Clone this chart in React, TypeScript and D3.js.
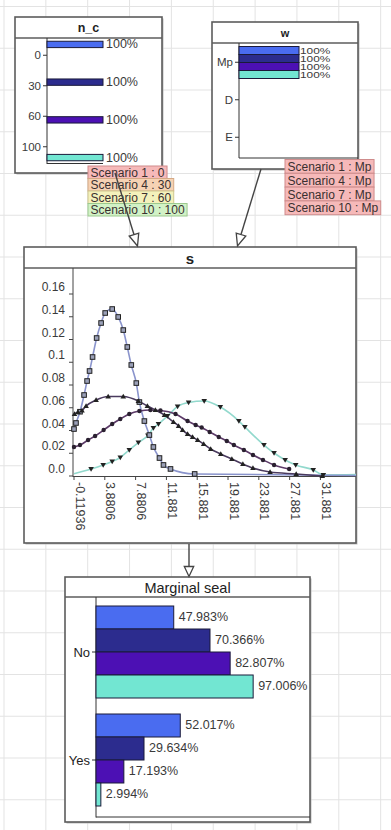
import React, { useEffect, useRef } from 'react';
import * as d3 from 'd3';

// ---------- data ----------
const scenarioNames = ['Scenario 1', 'Scenario 4', 'Scenario 7', 'Scenario 10'];
const scenarioColors = ['#4a6cf0', '#2c2c8e', '#4c10b4', '#72e6d2'];

const ncStates = ['0', '30', '60', '100'];
const ncEvidence = ['0', '30', '60', '100'];
const ncLabelFills = ['#f6b9b9', '#f6d2b4', '#f4f1bb', '#d2f2c6'];
const ncLabelStrokes = ['#cf8c8c', '#d5a985', '#cfc88f', '#9cc98f'];

const wStates = ['Mp', 'D', 'E'];
const wEvidence = ['Mp', 'Mp', 'Mp', 'Mp'];

const sYTicks = [0, 0.02, 0.04, 0.06, 0.08, 0.1, 0.12, 0.14, 0.16];
const sYTickLabels = ['0.0', '0.02', '0.04', '0.06', '0.08', '0.1', '0.12', '0.14', '0.16'];
const sXTicks = [-0.11936, 3.8806, 7.8806, 11.881, 15.881, 19.881, 23.881, 27.881, 31.881];
const sXTickLabels = ['-0.11936', '3.8806', '7.8806', '11.881', '15.881', '19.881', '23.881', '27.881', '31.881'];

// [x, density, marker(1) / line-only(0)]
const sScenario1 = [
  [-0.12, 0.0413, 1], [0.14, 0.0466, 1], [0.66, 0.0565, 1], [1.19, 0.0712, 1], [1.58, 0.0835, 1],
  [1.9, 0.0923, 1], [2.29, 0.1046, 1], [2.82, 0.1213, 1], [3.4, 0.1345, 1], [3.93, 0.1433, 1],
  [4.84, 0.1468, 1], [5.62, 0.1398, 1], [6.28, 0.1283, 1], [6.8, 0.1134, 1], [7.32, 0.0976, 1],
  [7.97, 0.0817, 1], [8.37, 0.065, 1], [9.02, 0.0483, 1], [9.67, 0.036, 1], [10.19, 0.0255, 1],
  [10.98, 0.0158, 1], [11.5, 0.0097, 1], [12.41, 0.0062, 1], [15.55, 0.0018, 1], [36.5, 0.0005, 0],
];
const sScenario4 = [
  [-0.05, 0.0545, 1], [0.4, 0.0563, 1], [0.92, 0.0576, 1], [1.45, 0.0615, 1], [2.75, 0.0668, 1],
  [4.32, 0.0699, 1], [6.28, 0.0699, 1], [8.24, 0.0659, 1], [9.41, 0.0615, 1], [10.45, 0.058, 1],
  [11.63, 0.0536, 1], [12.8, 0.0475, 1], [13.46, 0.044, 1], [13.98, 0.0404, 1], [14.63, 0.0369, 1],
  [15.28, 0.0343, 1], [15.94, 0.0316, 1], [16.72, 0.0281, 1], [17.63, 0.0237, 1], [18.94, 0.0193, 1],
  [20.38, 0.0149, 1], [21.81, 0.0105, 1], [23.12, 0.007, 1], [25.34, 0.0035, 1], [28.73, 0.0018, 1],
  [32.12, 0.0, 1],
];
const sScenario7 = [
  [-0.12, 0.0255, 1], [0.66, 0.0272, 1], [1.71, 0.0316, 1], [2.62, 0.0352, 1], [3.73, 0.0404, 1],
  [4.84, 0.0457, 1], [5.89, 0.0501, 1], [7.06, 0.0545, 1], [8.37, 0.0571, 1], [9.8, 0.058, 1],
  [11.11, 0.0576, 1], [13.07, 0.0545, 1], [14.63, 0.0483, 1], [15.68, 0.0448, 1], [16.46, 0.0426, 1],
  [17.5, 0.0387, 1], [18.68, 0.0343, 1], [19.72, 0.0308, 1], [20.64, 0.0272, 1], [21.94, 0.0229, 1],
  [23.12, 0.0185, 1], [24.42, 0.0141, 1], [25.86, 0.0097, 1], [27.82, 0.0062, 1],
];
const sScenario10 = [
  [-0.12, 0.002, 0], [2.1, 0.0062, 1], [3.67, 0.0097, 1], [4.84, 0.0127, 1], [5.89, 0.0163, 1],
  [7.06, 0.0229, 1], [8.24, 0.0294, 1], [9.48, 0.0356, 1], [10.19, 0.0422, 1], [10.85, 0.0457, 1],
  [12.02, 0.0527, 1], [13.33, 0.0611, 1], [14.76, 0.0646, 1], [16.79, 0.0659, 1], [18.88, 0.0606, 1],
  [21.29, 0.0483, 1], [22.07, 0.0431, 1], [24.55, 0.0272, 1], [25.86, 0.0202, 1], [27.3, 0.0141, 1],
  [28.67, 0.0097, 1], [30.95, 0.0053, 1], [32.26, 0.0009, 1], [36.5, 0.0012, 0],
];
const sSeries = [sScenario1, sScenario4, sScenario7, sScenario10];
const sMarkers = ['square', 'triangleUp', 'circle', 'triangleDown'];
const sLineColors = ['#8a94cc', '#4a3a5e', '#5c3a68', '#92d9cd'];

const sealStates = ['No', 'Yes'];
const sealNo = [47.983, 70.366, 82.807, 97.006];
const sealYes = [52.017, 29.634, 17.193, 2.994];

const FONT = "'Liberation Sans', Arial, sans-serif";
const BORDER = '#5c5c5c';
const TEXT = '#3a3a3a';

export default function App() {
  const ref = useRef<SVGSVGElement>(null);

  useEffect(() => {
    const svg = d3.select(ref.current);
    svg.selectAll('*').remove();
    svg.attr('font-family', FONT);

    // background grid
    const grid = svg.append('g');
    d3.range(0, 10).forEach((i) => {
      const x = 4 + i * 41.85;
      grid.append('line').attr('x1', x).attr('x2', x).attr('y1', 0).attr('y2', 830)
        .attr('stroke', '#e3e3e3').attr('stroke-width', 1);
    });
    d3.range(0, 20).forEach((j) => {
      const y = 6.5 + j * 41.75;
      grid.append('line').attr('x1', 0).attr('x2', 391).attr('y1', y).attr('y2', y)
        .attr('stroke', '#e3e3e3').attr('stroke-width', 1);
    });

    const drawBox = (x: number, y: number, w: number, h: number, hb: number, title: string,
      size: number, weight: string) => {
      const g = svg.append('g');
      g.append('rect').attr('x', x + 1.5).attr('y', y + 1.5).attr('width', w).attr('height', h)
        .attr('fill', '#bdbdbd');
      g.append('rect').attr('x', x).attr('y', y).attr('width', w).attr('height', h)
        .attr('fill', '#fff').attr('stroke', BORDER).attr('stroke-width', 1.6);
      g.append('line').attr('x1', x).attr('x2', x + w).attr('y1', hb).attr('y2', hb)
        .attr('stroke', BORDER).attr('stroke-width', 1.4);
      g.append('text').attr('x', x + w / 2).attr('y', (y + hb) / 2 + 0.5)
        .attr('text-anchor', 'middle').attr('dominant-baseline', 'central')
        .attr('font-size', size).attr('font-weight', weight).attr('fill', '#222').text(title);
      return g;
    };

    // ---------- n_c ----------
    {
      const g = drawBox(15, 17, 147, 156, 38, 'n_c', 12.5, 'bold');
      const y = d3.scaleBand().domain(ncStates).range([40, 162]);
      const inner = d3.scaleBand().domain(scenarioNames).range([1.25, 29.25]).paddingInner(0.12);
      const x = d3.scaleLinear().domain([0, 100]).range([47, 103]);
      g.append('line').attr('x1', 47).attr('x2', 47).attr('y1', 38).attr('y2', 164)
        .attr('stroke', '#333').attr('stroke-width', 1);
      g.append('line').attr('x1', 47).attr('x2', 103).attr('y1', 163.5).attr('y2', 163.5)
        .attr('stroke', '#333').attr('stroke-width', 1);
      ncStates.forEach((st) => {
        const cy = (y(st) as number) + y.bandwidth() / 2;
        g.append('line').attr('x1', 43).attr('x2', 47).attr('y1', cy).attr('y2', cy).attr('stroke', '#333');
        g.append('text').attr('x', 41).attr('y', cy).attr('text-anchor', 'end')
          .attr('dominant-baseline', 'central').attr('font-size', 11.5).attr('fill', TEXT).text(st);
        scenarioNames.forEach((sc, i) => {
          const v = ncEvidence[i] === st ? 100 : 0;
          if (!v) return;
          const by = (y(st) as number) + (inner(sc) as number);
          g.append('rect').attr('x', x(0)).attr('y', by).attr('width', x(v) - x(0))
            .attr('height', inner.bandwidth()).attr('fill', scenarioColors[i])
            .attr('stroke', '#1a1a3a').attr('stroke-width', 1);
          g.append('text').attr('x', x(v) + 3).attr('y', by + inner.bandwidth() / 2)
            .attr('dominant-baseline', 'central').attr('font-size', 12.5).attr('fill', TEXT)
            .text(`${v}%`);
        });
      });
    }

    // ---------- w ----------
    {
      const g = drawBox(212, 22, 146, 147, 43, 'w', 11, 'bold');
      const y = d3.scaleBand().domain(wStates).range([43.5, 156]);
      const inner = d3.scaleBand().domain(scenarioNames).range([3, 35]);
      const x = d3.scaleLinear().domain([0, 100]).range([239, 299]);
      g.append('line').attr('x1', 239).attr('x2', 239).attr('y1', 43).attr('y2', 158)
        .attr('stroke', '#333');
      g.append('line').attr('x1', 239).attr('x2', 358).attr('y1', 158).attr('y2', 158)
        .attr('stroke', '#333');
      wStates.forEach((st) => {
        const cy = (y(st) as number) + y.bandwidth() / 2;
        g.append('line').attr('x1', 235).attr('x2', 239).attr('y1', cy).attr('y2', cy).attr('stroke', '#333');
        g.append('text').attr('x', 233).attr('y', cy).attr('text-anchor', 'end')
          .attr('dominant-baseline', 'central').attr('font-size', 11.5).attr('fill', TEXT).text(st);
        scenarioNames.forEach((sc, i) => {
          const v = wEvidence[i] === st ? 100 : 0;
          if (!v) return;
          const by = (y(st) as number) + (inner(sc) as number);
          g.append('rect').attr('x', x(0)).attr('y', by).attr('width', x(v) - x(0))
            .attr('height', inner.bandwidth()).attr('fill', scenarioColors[i])
            .attr('stroke', '#1a1a3a').attr('stroke-width', 1);
          g.append('text')
            .attr('transform', `translate(${x(v) + 1},${by + inner.bandwidth() / 2}) scale(0.95,0.72)`)
            .attr('dominant-baseline', 'central').attr('font-size', 12.5).attr('fill', TEXT)
            .text(`${v}%`);
        });
      });
    }

    // ---------- s ----------
    {
      const g = drawBox(24, 247, 332, 296, 268, 's', 15, 'bold');
      const x = d3.scaleLinear().domain([-0.11936, 36.5]).range([74, 356]);
      const y = d3.scaleLinear().domain([0, 0.16]).range([476, 294]);
      g.append('line').attr('x1', 73).attr('x2', 73).attr('y1', 268).attr('y2', 477).attr('stroke', '#444');
      g.append('line').attr('x1', 73).attr('x2', 356).attr('y1', 476.5).attr('y2', 476.5).attr('stroke', '#444');
      sYTicks.forEach((t, i) => {
        const py = y(t);
        g.append('line').attr('x1', 69).attr('x2', 73).attr('y1', py).attr('y2', py).attr('stroke', '#444');
        g.append('text').attr('x', 65).attr('y', py - 7).attr('text-anchor', 'end')
          .attr('dominant-baseline', 'central').attr('font-size', 12).attr('fill', TEXT)
          .text(sYTickLabels[i]);
      });
      sXTicks.forEach((t, i) => {
        const px = x(t);
        g.append('line').attr('x1', px).attr('x2', px).attr('y1', 476).attr('y2', 480).attr('stroke', '#444');
        g.append('text').attr('transform', `translate(${px + 5.5},482) rotate(90)`)
          .attr('text-anchor', 'start').attr('dominant-baseline', 'central')
          .attr('font-size', 12.5).attr('fill', TEXT).text(sXTickLabels[i]);
      });
      const line = d3.line<number[]>().x((d) => x(d[0])).y((d) => y(d[1])).curve(d3.curveMonotoneX);
      const order = [3, 0, 2, 1];
      order.forEach((si) => {
        g.append('path').attr('d', line(sSeries[si]) as string).attr('fill', 'none')
          .attr('stroke', sLineColors[si]).attr('stroke-width', 1.6);
      });
      order.forEach((si) => {
        const pts = sSeries[si].filter((d) => d[2] === 1);
        const kind = sMarkers[si];
        pts.forEach((d) => {
          const px = x(d[0]);
          const py = y(d[1]);
          if (kind === 'square') {
            g.append('rect').attr('x', px - 2.3).attr('y', py - 2.3).attr('width', 4.6).attr('height', 4.6)
              .attr('fill', '#9aa0b8').attr('stroke', '#222').attr('stroke-width', 1);
          } else if (kind === 'circle') {
            g.append('circle').attr('cx', px).attr('cy', py).attr('r', 2.2).attr('fill', '#2a2030');
          } else {
            const dir = kind === 'triangleUp' ? -1 : 1;
            const pts2 = [[px, py + dir * 2.8], [px - 2.8, py - dir * 2], [px + 2.8, py - dir * 2]];
            g.append('polygon').attr('points', pts2.map((p) => p.join(',')).join(' '))
              .attr('fill', '#222');
          }
        });
      });
    }

    // ---------- Marginal seal ----------
    {
      const g = drawBox(65, 577, 245, 245, 597, 'Marginal seal', 14.5, 'normal');
      const y = d3.scaleBand().domain(sealStates).range([598, 814]);
      const inner = d3.scaleBand().domain(scenarioNames).range([8, 100]);
      const x = d3.scaleLinear().domain([0, 100]).range([96, 258]);
      g.append('line').attr('x1', 96).attr('x2', 96).attr('y1', 597).attr('y2', 817.5).attr('stroke', '#333');
      g.append('line').attr('x1', 96).attr('x2', 310).attr('y1', 817).attr('y2', 817).attr('stroke', '#333');
      const vals = [sealNo, sealYes];
      sealStates.forEach((st, k) => {
        const cy = (y(st) as number) + y.bandwidth() / 2;
        g.append('line').attr('x1', 92).attr('x2', 96).attr('y1', cy).attr('y2', cy).attr('stroke', '#333');
        g.append('text').attr('x', 90).attr('y', cy).attr('text-anchor', 'end')
          .attr('dominant-baseline', 'central').attr('font-size', 13).attr('fill', '#222').text(st);
        scenarioNames.forEach((sc, i) => {
          const v = vals[k][i];
          const by = (y(st) as number) + (inner(sc) as number);
          g.append('rect').attr('x', x(0)).attr('y', by).attr('width', x(v) - x(0))
            .attr('height', inner.bandwidth()).attr('fill', scenarioColors[i])
            .attr('stroke', '#1a1a3a').attr('stroke-width', 1);
          g.append('text').attr('x', x(v) + 5).attr('y', by + inner.bandwidth() / 2 - 1)
            .attr('dominant-baseline', 'central').attr('font-size', 12.5).attr('fill', TEXT)
            .text(`${v.toFixed(3)}%`);
        });
      });
    }

    // ---------- scenario labels ----------
    const drawLabels = (x0: number, y0: number, h: number, texts: string[], fills: string[], strokes: string[]) => {
      texts.forEach((t, i) => {
        const g = svg.append('g');
        const rect = g.append('rect');
        const txt = g.append('text').attr('x', x0 + 2.5).attr('y', y0 + i * h + h / 2 + 0.5)
          .attr('dominant-baseline', 'central').attr('font-size', 12).attr('fill', '#3a3030').text(t);
        const tw = (txt.node() as SVGTextElement).getComputedTextLength();
        rect.attr('x', x0).attr('y', y0 + i * h).attr('width', tw + 5).attr('height', h)
          .attr('fill', fills[i]).attr('stroke', strokes[i]).attr('stroke-width', 1);
      });
    };
    drawLabels(88, 166, 12.5, scenarioNames.map((s, i) => `${s} : ${ncEvidence[i]}`),
      ncLabelFills, ncLabelStrokes);
    drawLabels(285, 159.5, 13.8, scenarioNames.map((s, i) => `${s} : ${wEvidence[i]}`),
      scenarioNames.map(() => '#f6b9b9'), scenarioNames.map(() => '#cf8c8c'));

    // ---------- arrows ----------
    const arrow = (x1: number, y1: number, x2: number, y2: number, L: number, hw: number) => {
      const a = Math.atan2(y2 - y1, x2 - x1);
      const c = Math.cos(a), s = Math.sin(a);
      const bx = x2 - L * c, by = y2 - L * s;
      svg.append('line').attr('x1', x1).attr('y1', y1).attr('x2', bx).attr('y2', by)
        .attr('stroke', '#444').attr('stroke-width', 1.4);
      const p = [[x2, y2], [bx - hw * s, by + hw * c], [bx + hw * s, by - hw * c]];
      svg.append('polygon').attr('points', p.map((q) => q.join(',')).join(' '))
        .attr('fill', '#fff').attr('stroke', '#444').attr('stroke-width', 1.3);
    };
    arrow(115, 173, 137.5, 246, 12, 5);
    arrow(261, 169, 237.5, 246, 12, 5);
    arrow(189, 544, 189, 576.5, 10, 4.7);
  }, []);

  return (
    <svg ref={ref} width={391} height={830}
      style={{ position: 'absolute', left: 0, top: 0, background: '#fff' }} />
  );
}
